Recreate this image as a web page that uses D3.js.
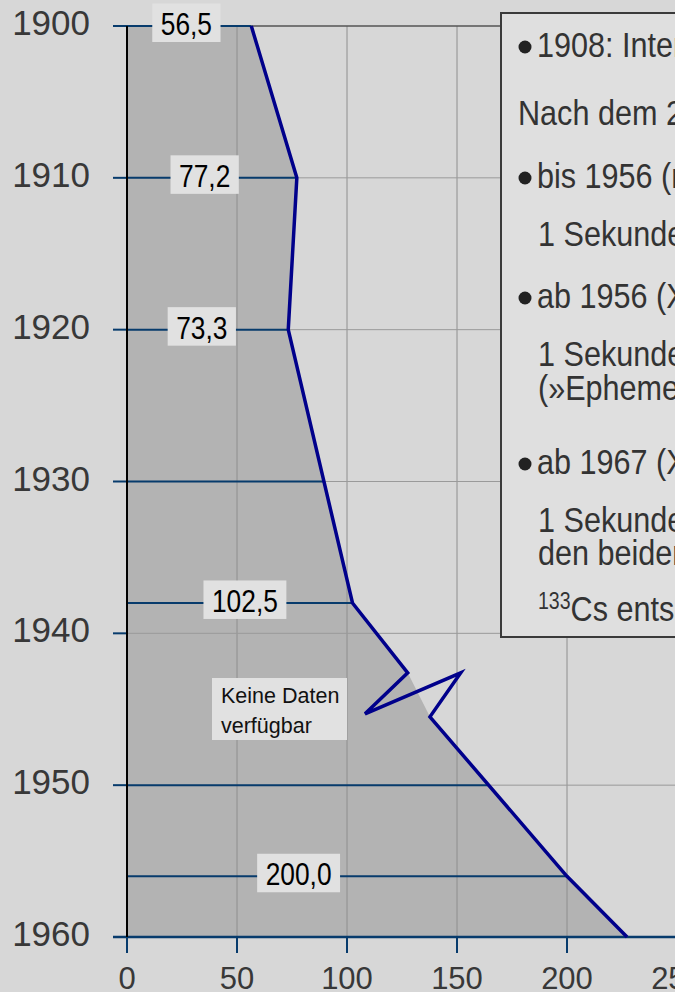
<!DOCTYPE html>
<html lang="de">
<head>
<meta charset="utf-8">
<script src="https://cdn.jsdelivr.net/npm/d3@7"></script>
<style>
  html, body { margin: 0; padding: 0; background: #d7d7d7; overflow: hidden; }
  svg { display: block; }
</style>
</head>
<body>
<svg id="chart" width="675" height="992"></svg>
<script>
// Curve points (year, value); the gap during the war is marked by a zigzag
const years  = [1900, 1910, 1920, 1938, 1956, 1960];
const values = [56.5, 77.2, 73.3, 102.5, 200.0, 227.3];

// Zigzag "no data" break between 1938 and 1956
const gapYears  = [1942.6, 1945.3, 1942.6, 1945.5];
const gapValues = [127.6, 108.2, 151.7, 137.7];

// Labelled years and their printed values
const labelYears  = [1900, 1910, 1920, 1938, 1956];
const labelTexts  = ["56,5", "77,2", "73,3", "102,5", "200,0"];
// Extra guide lines to the curve without a label
const guideYears  = [1930, 1950];

// Axis ticks
const yearTicks  = [1900, 1910, 1920, 1930, 1940, 1950, 1960];
const valueTicks = [0, 50, 100, 150, 200, 250];

// Note box lines: [indent level, bullet?, text]
const noteLines = [
  [0, true,  "1908: Internationale Konferenz in London"],
  [0, false, "Nach dem 2. Weltkrieg:"],
  [0, true,  "bis 1956 (mittlere Sonnenzeit):"],
  [1, false, "1 Sekunde = 1/86 400 des mittleren Sonnentages"],
  [0, true,  "ab 1956 (XI. CGPM):"],
  [1, false, "1 Sekunde = 1/31 556 925,9747 des tropischen Jahres"],
  [1, false, "(»Ephemeridensekunde«)"],
  [0, true,  "ab 1967 (XIII. CGPM):"],
  [1, false, "1 Sekunde = 9 192 631 770 Perioden der Strahlung zwischen"],
  [1, false, "den beiden Hyperfeinstrukturniveaus des Grundzustands von"],
  [1, false, "SUP133|Cs entspricht"]
];

// ---- layout ----
const W = 675, H = 992;
const SANS = "'Liberation Sans', Arial, sans-serif";
const NARROW_SCALE = 0.85;                     // condensed face, emulated
const labelAt = [27, 35.3, 34, 53.6, 78];      // label centres, in value units
const noteBaselines = [57, 125, 188, 246, 308, 366, 400, 474, 532, 565, 621];

const x = d3.scaleLinear().domain([0, 250]).range([127, 677]);
const y = d3.scaleLinear().domain([1900, 1960]).range([26, 937]);

const svg = d3.select("#chart");
svg.append("rect").attr("width", W).attr("height", H).attr("fill", "#d7d7d7");

// condensed text helper
function narrow(parent, tx, ty, size, txt, anchor, fill) {
  return parent.append("text")
    .attr("transform", `translate(${tx},${ty}) scale(${NARROW_SCALE},1)`)
    .attr("text-anchor", anchor || "start")
    .attr("font-family", SANS).attr("font-size", size)
    .attr("fill", fill || "#000")
    .text(txt);
}

// Full curve (line) and fill outline (skips the outer zigzag tips)
const curve = [];
years.forEach((yr, i) => {
  curve.push([yr, values[i]]);
  if (yr === 1938) gapYears.forEach((g, j) => curve.push([g, gapValues[j]]));
});
const fillPts = curve.filter(p => !(p[0] === gapYears[1] && p[1] === gapValues[1]) &&
                                   !(p[0] === gapYears[2] && p[1] === gapValues[2]));

// value of the fill outline at a given year (for guide lines)
function valueAt(yr) {
  for (let i = 0; i < fillPts.length - 1; i++) {
    const a = fillPts[i], b = fillPts[i + 1];
    if (yr >= a[0] && yr <= b[0]) return a[1] + (b[1] - a[1]) * (yr - a[0]) / (b[0] - a[0]);
  }
  return fillPts[fillPts.length - 1][1];
}

// shaded area
const area = d3.area()
  .x0(x(0)).x1(d => x(d[1]))
  .y(d => y(d[0]));
svg.append("path").datum(fillPts).attr("d", area).attr("fill", "#b3b3b3");

// vertical grid
svg.append("g").selectAll("line").data(valueTicks.filter(v => v > 0))
  .join("line")
  .attr("x1", d => x(d)).attr("x2", d => x(d))
  .attr("y1", y(1900)).attr("y2", y(1960))
  .attr("stroke", "#8e8e8e").attr("stroke-width", 1);

// horizontal grid
svg.append("g").selectAll("line").data(yearTicks.filter(t => t < 1960))
  .join("line")
  .attr("x1", x(0)).attr("x2", W)
  .attr("y1", d => y(d)).attr("y2", d => y(d))
  .attr("stroke", d => d === 1900 ? "#555" : "#9a9a9a")
  .attr("stroke-width", d => d === 1900 ? 1.5 : 1);

const NAVY = "#073b6c";

// left ticks
svg.append("g").selectAll("line").data(yearTicks)
  .join("line")
  .attr("x1", 113).attr("x2", x(0))
  .attr("y1", d => y(d)).attr("y2", d => y(d))
  .attr("stroke", NAVY).attr("stroke-width", 2);

// guide lines from the axis to the curve
svg.append("g").selectAll("line").data(labelYears.concat(guideYears))
  .join("line")
  .attr("x1", x(0)).attr("x2", d => x(valueAt(d)))
  .attr("y1", d => y(d)).attr("y2", d => y(d))
  .attr("stroke", NAVY).attr("stroke-width", 2);

// bottom axis line + ticks
svg.append("line")
  .attr("x1", 113).attr("x2", W).attr("y1", y(1960)).attr("y2", y(1960))
  .attr("stroke", NAVY).attr("stroke-width", 2.5);
svg.append("g").selectAll("line").data(valueTicks)
  .join("line")
  .attr("x1", d => x(d)).attr("x2", d => x(d))
  .attr("y1", y(1960)).attr("y2", y(1960) + 16)
  .attr("stroke", NAVY).attr("stroke-width", 2);

// left axis
svg.append("line")
  .attr("x1", x(0)).attr("x2", x(0)).attr("y1", y(1900)).attr("y2", y(1960))
  .attr("stroke", "#000").attr("stroke-width", 2);

// data line
svg.append("path").datum(curve)
  .attr("d", d3.line().x(d => x(d[1])).y(d => y(d[0])))
  .attr("fill", "none").attr("stroke", "#00008b")
  .attr("stroke-width", 3.5).attr("stroke-linejoin", "miter");

// value labels
labelYears.forEach((yr, i) => {
  const g = svg.append("g");
  const t = narrow(g, x(labelAt[i]), y(yr) + 9, 31, labelTexts[i], "middle");
  const bb = t.node().getBBox();
  const w = bb.width * NARROW_SCALE;
  g.insert("rect", "text")
    .attr("x", x(labelAt[i]) - w / 2 - 8.5).attr("width", w + 17)
    .attr("y", y(yr) - 22.5).attr("height", 38.5)
    .attr("fill", "#e1e1e1");
});

// "no data" note
const nd = svg.append("g");
nd.append("rect").attr("x", 212).attr("y", 678).attr("width", 135).attr("height", 62).attr("fill", "#e1e1e1");
nd.append("text").attr("x", 221).attr("y", 703)
  .attr("font-family", SANS).attr("font-size", 21.5).attr("fill", "#111")
  .text("Keine Daten");
nd.append("text").attr("x", 221).attr("y", 733)
  .attr("font-family", SANS).attr("font-size", 21.5).attr("fill", "#111")
  .text("verfügbar");

// year labels
svg.append("g").selectAll("text").data(yearTicks)
  .join("text")
  .attr("x", 90).attr("y", d => y(d) + 9)
  .attr("text-anchor", "end")
  .attr("font-family", SANS).attr("font-size", 35).attr("fill", "#383838")
  .text(d => d);

// value tick labels
svg.append("g").selectAll("text").data(valueTicks)
  .join("text")
  .attr("x", d => x(d)).attr("y", 989)
  .attr("text-anchor", "middle")
  .attr("font-family", SANS).attr("font-size", 31).attr("fill", "#383838")
  .text(d => d);

// note box
const box = svg.append("g");
box.append("rect").attr("x", 501).attr("y", 13).attr("width", 400).attr("height", 624)
  .attr("fill", "#dfdfdf").attr("stroke", "#3a3a3a").attr("stroke-width", 2);
noteLines.forEach((ln, i) => {
  const [lvl, bullet, txt] = ln;
  const by = noteBaselines[i];
  const tx = bullet ? 537 : (lvl ? 538 : 518);
  if (bullet) {
    box.append("circle").attr("cx", 525).attr("cy", by - 10).attr("r", 6.5).attr("fill", "#222");
  }
  if (txt.startsWith("SUP")) {
    const [sup, rest] = txt.slice(3).split("|");
    const t = narrow(box, tx, by, 36, "", "start", "#333");
    t.append("tspan").attr("font-size", 23).attr("dy", -12).text(sup);
    t.append("tspan").attr("dy", 12).text(rest);
  } else {
    narrow(box, tx, by, 36, txt, "start", "#333");
  }
});
</script>
</body>
</html>
